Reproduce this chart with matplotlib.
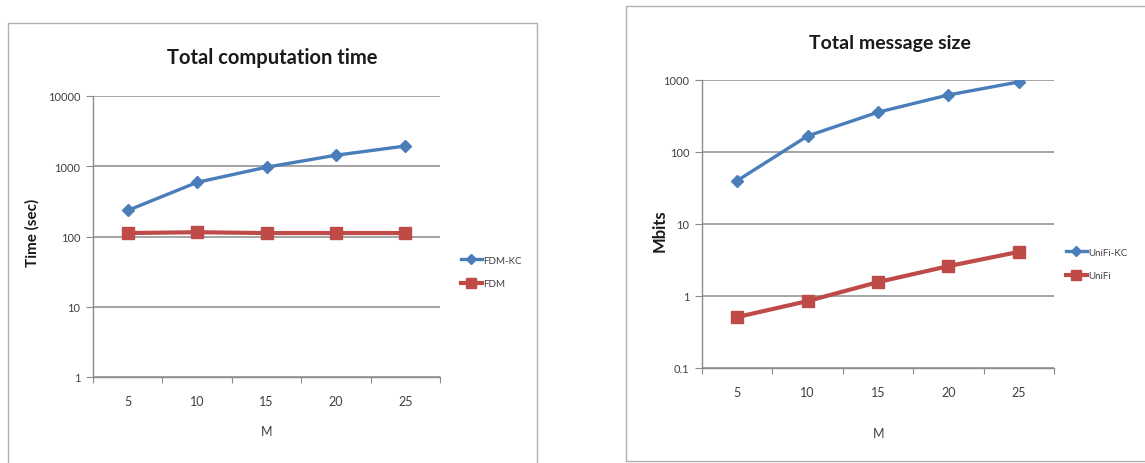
import matplotlib
matplotlib.use("Agg")
import matplotlib.pyplot as plt
from matplotlib.patches import Rectangle
import numpy as np

W, H = 1145, 464

# ---- data ----
m_values = ["5", "10", "15", "20", "25"]
fdm_kc = [235, 590, 970, 1435, 1940]
fdm = [112, 115, 112, 112, 112]
unifi_kc = [40, 167, 357, 620, 940]
unifi = [0.51, 0.85, 1.56, 2.6, 4.1]

BLUE = "#4a7ebb"
RED = "#be4b48"
GRID = "#8c8c8c"
TXT = "#404040"

plt.rcParams['font.family'] = ['Lato', 'DejaVu Sans']

fig = plt.figure(figsize=(W / 100, H / 100), dpi=100)
fig.patch.set_facecolor("white")


def fx(x):
    return x / W


def fy(y):
    return 1 - y / H


def rect_ax(l, t, r, b):
    return fig.add_axes([fx(l), fy(b), fx(r) - fx(l), (b - t) / H])


# panel borders
fig.patches.append(Rectangle((fx(8), fy(470)), fx(537) - fx(8), (470 - 24) / H,
                             transform=fig.transFigure, fill=False, edgecolor="#b0b0b0", lw=1.0))
fig.patches.append(Rectangle((fx(626), fy(462)), fx(1150) - fx(626), (462 - 7) / H,
                             transform=fig.transFigure, fill=False, edgecolor="#b0b0b0", lw=1.0))


def style_axes(ax, ymin, ymax):
    x = np.arange(len(m_values))
    ax.set_yscale("log")
    ax.set_ylim(ymin, ymax)
    ax.set_xlim(-0.5, len(m_values) - 0.5)
    decades = [10.0 ** k for k in range(int(np.log10(ymin)), int(np.log10(ymax)) + 1)]
    ax.set_yticks(decades)
    ax.set_yticklabels([("%g" % d) for d in decades])
    ax.yaxis.set_minor_locator(matplotlib.ticker.NullLocator())
    ax.set_xticks(np.arange(-0.5, len(m_values), 1.0))
    ax.set_xticklabels([""] * (len(m_values) + 1))
    ax.set_xticks(x, minor=True)
    ax.set_xticklabels(m_values, minor=True)
    ax.tick_params(axis="x", which="major", length=4, color=GRID, direction="out")
    ax.tick_params(axis="x", which="minor", length=0, pad=13, labelsize=9, labelcolor=TXT)
    ax.tick_params(axis="y", length=5, color=GRID, labelsize=8, labelcolor=TXT, pad=4)
    for s in ["top", "right"]:
        ax.spines[s].set_visible(False)
    for s in ["left", "bottom"]:
        ax.spines[s].set_color(GRID)
        ax.spines[s].set_linewidth(1.0)
    ax.grid(axis="y", which="major", color=GRID, lw=1.1)
    ax.set_axisbelow(True)
    return x


# ---- left chart ----
ax1 = rect_ax(93, 97, 440, 378)
x = style_axes(ax1, 1, 10000)
ax1.plot(x, fdm_kc, color=BLUE, lw=2.4, marker="D", ms=6, label="FDM-KC")
ax1.plot(x, fdm, color=RED, lw=3.0, marker="s", ms=8, label="FDM")
fig.text(fx(272), fy(58), "Total computation time", ha="center", va="center",
         fontsize=14.5, fontweight="bold", color="#1a1a1a")
fig.text(fx(32), fy(233), "Time (sec)", ha="center", va="center", rotation=90,
         fontsize=11, fontweight="bold", color="#1a1a1a")
fig.text(fx(267), fy(432), "M", ha="center", va="center", fontsize=9, color=TXT)
ax1.legend(loc="center left", bbox_to_anchor=(fx(452), fy(273)), bbox_transform=fig.transFigure,
           frameon=False, fontsize=7, handlelength=2.2, handletextpad=0.1, labelspacing=1.5,
           labelcolor=TXT, markerscale=0.9)

# ---- right chart ----
ax2 = rect_ax(702, 81, 1054, 369)
x = style_axes(ax2, 0.1, 1000)
ax2.set_yticklabels(["0.1", "1", "10", "100", "1000"])
ax2.plot(x, unifi_kc, color=BLUE, lw=2.4, marker="D", ms=6, label="UniFi-KC")
ax2.plot(x, unifi, color=RED, lw=3.0, marker="s", ms=8, label="UniFi")
fig.text(fx(890), fy(43), "Total message size", ha="center", va="center",
         fontsize=14, fontweight="bold", color="#1a1a1a")
fig.text(fx(660), fy(231), "Mbits", ha="center", va="center", rotation=90,
         fontsize=12, fontweight="bold", color="#1a1a1a")
fig.text(fx(879), fy(434), "M", ha="center", va="center", fontsize=9, color=TXT)
ax2.legend(loc="center left", bbox_to_anchor=(fx(1057), fy(265)), bbox_transform=fig.transFigure,
           frameon=False, fontsize=7, handlelength=2.2, handletextpad=0.1, labelspacing=1.5,
           labelcolor=TXT, markerscale=0.9)

fig.savefig("out.png", dpi=100)
